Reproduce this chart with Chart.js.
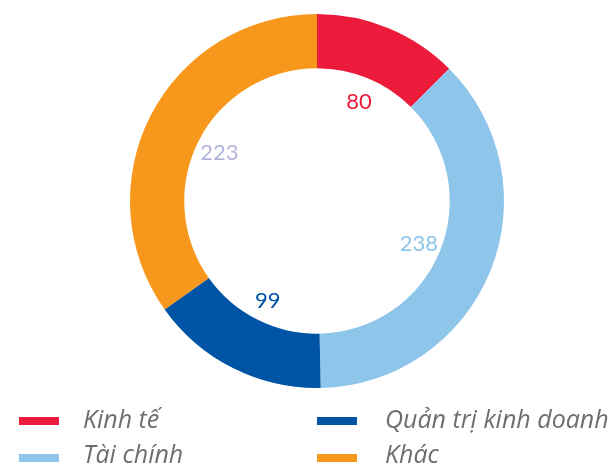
<!DOCTYPE html>
<html>
<head>
<meta charset="utf-8">
<script src="https://cdn.jsdelivr.net/npm/chart.js@4"></script>
<style>
  html, body { margin: 0; padding: 0; background: #ffffff; }
  #wrap { position: relative; width: 611px; height: 467px; overflow: hidden; }
  #c { position: absolute; left: 0; top: 0; }
  .lg { position: absolute; font-family: "Open Sans", Lato, sans-serif; font-style: italic;
        font-size: 25px; color: #6d6e71; white-space: nowrap; line-height: 25px; }
  .mk { position: absolute; width: 40px; height: 8px; }
</style>
</head>
<body>
<div id="wrap">
  <canvas id="c" width="611" height="467"></canvas>
</div>
<script>
const categories = ["Kinh tế", "Tài chính", "Quản trị kinh doanh", "Khác"];
const values = [80, 238, 99, 223];
const sliceColors = ["#ED1B3B", "#8EC5EB", "#0054A6", "#F7981D"];
const labelColors = ["#ED1B3B", "#8EC5EB", "#0054A6", "#B3B4DD"];

const labelPlugin = {
  id: 'innerLabels',
  afterDatasetsDraw(chart) {
    const ctx = chart.ctx;
    const meta = chart.getDatasetMeta(0);
    ctx.save();
    ctx.font = '22px Lato, sans-serif';
    ctx.textAlign = 'center';
    ctx.textBaseline = 'middle';
    meta.data.forEach((arc, i) => {
      const p = arc.getProps(['x', 'y', 'startAngle', 'endAngle', 'innerRadius'], true);
      const mid = (p.startAngle + p.endAngle) / 2;
      const r = p.innerRadius - 23;
      ctx.fillStyle = labelColors[i];
      ctx.fillText(String(values[i]), p.x + Math.cos(mid) * r, p.y + Math.sin(mid) * r + 2);
    });
    ctx.restore();
  }
};

function build() {
  new Chart(document.getElementById('c'), {
    type: 'doughnut',
    data: {
      labels: categories,
      datasets: [{
        data: values,
        backgroundColor: sliceColors,
        borderWidth: 0
      }]
    },
    options: {
      responsive: false,
      animation: false,
      cutout: '71%',
      layout: { padding: { left: 130, right: 107, top: 14, bottom: 79 } },
      plugins: { legend: { display: false }, tooltip: { enabled: false } }
    },
    plugins: [labelPlugin]
  });
}

Promise.all([
  document.fonts.load('22px Lato'),
  document.fonts.load('italic 25px "Open Sans"')
]).then(build, build);

// HTML legend built from the arrays
const wrap = document.getElementById('wrap');
const legendPos = [
  { mx: 19, tx: 83, my: 417, ty: 406 },
  { mx: 19, tx: 83, my: 454, ty: 441 },
  { mx: 317, tx: 385, my: 417, ty: 406 },
  { mx: 317, tx: 385, my: 454, ty: 441 }
];
categories.forEach((name, i) => {
  const pos = legendPos[i];
  const mk = document.createElement('div');
  mk.className = 'mk';
  mk.style.left = pos.mx + 'px';
  mk.style.top = pos.my + 'px';
  mk.style.background = sliceColors[i];
  wrap.appendChild(mk);
  const t = document.createElement('div');
  t.className = 'lg';
  t.style.left = pos.tx + 'px';
  t.style.top = pos.ty + 'px';
  t.textContent = name;
  wrap.appendChild(t);
});
</script>
</body>
</html>
